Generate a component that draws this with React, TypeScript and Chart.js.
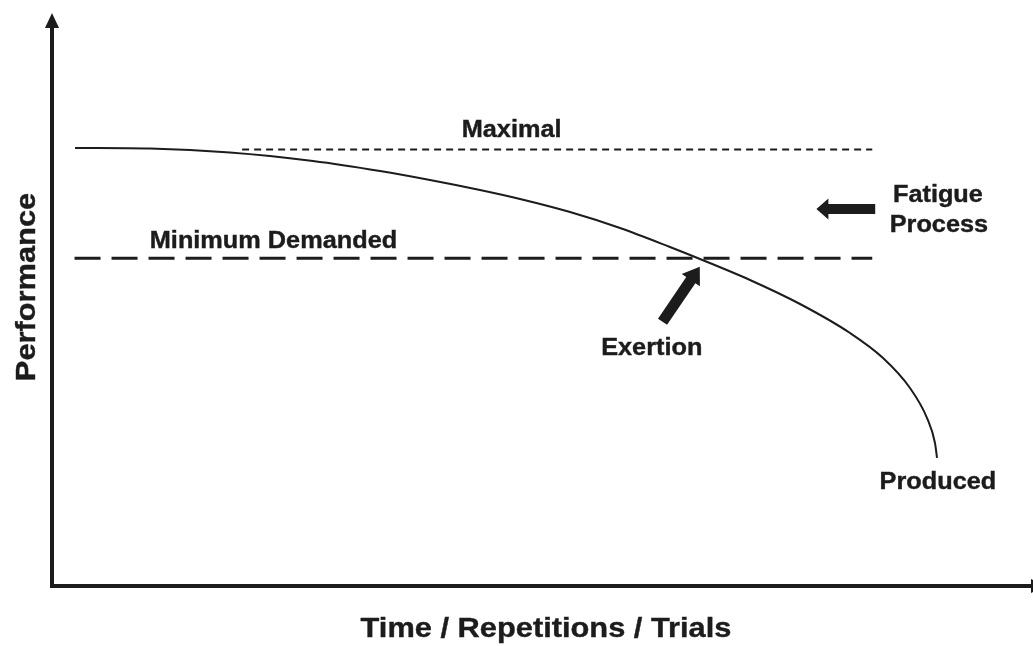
import React, { useEffect, useRef } from 'react';
import { Chart, registerables } from 'chart.js';

Chart.register(...registerables);

// Produced performance curve (x: time/repetitions, y: performance, 0-100 units)
const producedX = [2.35, 10.0, 18.16, 26.63, 33.47, 38.57, 43.67, 47.76, 52.86, 57.96, 63.06, 66.12, 71.22, 76.33, 81.43, 84.8, 87.55, 89.29, 90.1, 90.31];
const producedY = [76.57, 76.47, 75.79, 74.3, 72.55, 70.98, 69.23, 67.66, 65.38, 62.59, 59.27, 57.17, 53.5, 49.3, 44.23, 39.86, 34.62, 29.37, 25.0, 22.38];

// Maximal (dotted) level
const maximalX = [19.4, 83.7];
const maximalY = [76.3, 76.3];

// Minimum demanded (dashed) level
const minimumX = [2.3, 83.7];
const minimumY = [57.3, 57.3];

// Text annotations: [text, x, baseline y]
const annotationTexts = ['Maximal', 'Minimum Demanded', 'Fatigue', 'Process', 'Exertion', 'Produced'];
const annotationX = [46.9, 22.6, 90.4, 90.5, 61.2, 90.4];
const annotationY = [78.5, 59.1, 67.1, 61.9, 40.4, 17.0];

// Arrows: tail -> tip
const arrowNames = ['Fatigue', 'Exertion'];
const arrowTailX = [84.0, 62.3];
const arrowTailY = [65.9, 46.2];
const arrowTipX = [78.0, 66.1];
const arrowTipY = [65.9, 55.8];

const xTitle = 'Time / Repetitions / Trials';
const yTitle = 'Performance';

const INK = '#1c1c1c';
const FONT = '"Liberation Sans", Arial, sans-serif';

function toPoints(xs: number[], ys: number[]) {
  return xs.map((x, i) => ({ x, y: ys[i] }));
}

function drawText(ctx: CanvasRenderingContext2D, text: string, x: number, y: number, size: number, rot = 0) {
  ctx.save();
  ctx.translate(x, y);
  if (rot) ctx.rotate(rot);
  ctx.scale(1.1, 1);
  ctx.font = `bold ${size}px ${FONT}`;
  ctx.fillStyle = INK;
  ctx.strokeStyle = INK;
  ctx.lineWidth = 0.4;
  ctx.textAlign = 'center';
  ctx.textBaseline = 'alphabetic';
  ctx.fillText(text, 0, 0);
  ctx.strokeText(text, 0, 0);
  ctx.restore();
}

function drawBlockArrow(ctx: CanvasRenderingContext2D, x0: number, y0: number, x1: number, y1: number, shaft: number, headLen: number, headHalf: number) {
  const dx = x1 - x0;
  const dy = y1 - y0;
  const len = Math.hypot(dx, dy);
  const ang = Math.atan2(dy, dx);
  ctx.save();
  ctx.translate(x0, y0);
  ctx.rotate(ang);
  ctx.fillStyle = INK;
  ctx.beginPath();
  ctx.moveTo(0, -shaft / 2);
  ctx.lineTo(len - headLen, -shaft / 2);
  ctx.lineTo(len - headLen, -headHalf);
  ctx.lineTo(len, 0);
  ctx.lineTo(len - headLen, headHalf);
  ctx.lineTo(len - headLen, shaft / 2);
  ctx.lineTo(0, shaft / 2);
  ctx.closePath();
  ctx.fill();
  ctx.restore();
}

const overlayPlugin = {
  id: 'overlay',
  afterDatasetsDraw(chart: any) {
    const { ctx, chartArea, scales } = chart;
    const xs = scales.x;
    const ys = scales.y;
    const left = chartArea.left;
    const bottom = chartArea.bottom;
    const top = chartArea.top;
    const right = chartArea.right;

    ctx.save();
    ctx.strokeStyle = INK;
    ctx.fillStyle = INK;
    ctx.lineWidth = 4;
    ctx.lineCap = 'butt';
    // y axis
    ctx.beginPath();
    ctx.moveTo(left, bottom + 2);
    ctx.lineTo(left, top + 13);
    ctx.stroke();
    ctx.beginPath();
    ctx.moveTo(left, top - 1);
    ctx.lineTo(left - 7, top + 14);
    ctx.lineTo(left + 7, top + 14);
    ctx.closePath();
    ctx.fill();
    // x axis
    ctx.beginPath();
    ctx.moveTo(left - 2, bottom);
    ctx.lineTo(right, bottom);
    ctx.stroke();
    ctx.beginPath();
    ctx.moveTo(right - 1, bottom - 7);
    ctx.lineTo(right + 13, bottom);
    ctx.lineTo(right - 1, bottom + 7);
    ctx.closePath();
    ctx.fill();
    ctx.restore();

    // arrows
    for (let i = 0; i < arrowNames.length; i++) {
      const x0 = xs.getPixelForValue(arrowTailX[i]);
      const y0 = ys.getPixelForValue(arrowTailY[i]);
      const x1 = xs.getPixelForValue(arrowTipX[i]);
      const y1 = ys.getPixelForValue(arrowTipY[i]);
      if (arrowNames[i] === 'Fatigue') drawBlockArrow(ctx, x0, y0, x1, y1, 10, 12, 10.5);
      else drawBlockArrow(ctx, x0, y0, x1, y1, 11, 16, 11);
    }

    // annotations
    for (let i = 0; i < annotationTexts.length; i++) {
      drawText(ctx, annotationTexts[i], xs.getPixelForValue(annotationX[i]), ys.getPixelForValue(annotationY[i]), 23);
    }

    // axis titles
    drawText(ctx, xTitle, 546, bottom + 51, 28);
    drawText(ctx, yTitle, 35, 287, 28, -Math.PI / 2);
  },
};

export default function App() {
  const ref = useRef<HTMLCanvasElement | null>(null);
  useEffect(() => {
    if (!ref.current) return;
    const chart = new Chart(ref.current, {
      type: 'scatter',
      data: {
        datasets: [
          {
            label: 'Produced',
            data: toPoints(producedX, producedY),
            showLine: true,
            borderColor: INK,
            borderWidth: 2,
            pointRadius: 0,
            cubicInterpolationMode: 'monotone',
            fill: false,
          },
          {
            label: 'Maximal',
            data: toPoints(maximalX, maximalY),
            showLine: true,
            borderColor: INK,
            borderWidth: 2,
            borderDash: [7, 5],
            pointRadius: 0,
            fill: false,
          },
          {
            label: 'Minimum Demanded',
            data: toPoints(minimumX, minimumY),
            showLine: true,
            borderColor: INK,
            borderWidth: 3,
            borderDash: [26, 11],
            pointRadius: 0,
            fill: false,
          },
        ],
      },
      options: {
        responsive: false,
        animation: false,
        layout: { padding: { left: 52, right: 1, top: 14, bottom: 60 } },
        plugins: { legend: { display: false }, tooltip: { enabled: false }, title: { display: false } },
        scales: {
          x: { type: 'linear', min: 0, max: 100, display: false },
          y: { type: 'linear', min: 0, max: 100, display: false },
        },
      },
      plugins: [overlayPlugin],
    } as any);
    return () => chart.destroy();
  }, []);
  return (
    <div style={{ position: 'fixed', left: 0, top: 0, width: 1033, height: 646, background: '#fff' }}>
      <canvas ref={ref} width={1033} height={646} style={{ display: 'block', width: 1033, height: 646 }} />
    </div>
  );
}
